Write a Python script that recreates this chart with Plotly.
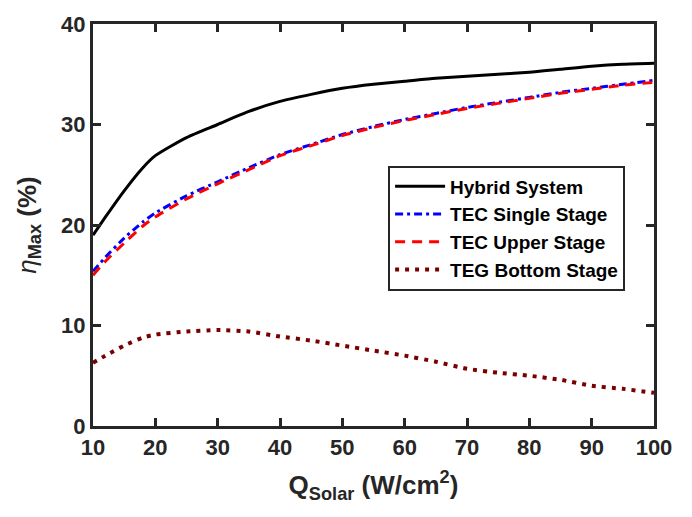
import plotly.graph_objects as go

q_solar = [10, 12, 15, 18, 20, 25, 30, 35, 40, 45, 50, 55, 60, 65, 70, 75, 80, 85, 90, 95, 100]
hybrid = [19.0, 20.8, 23.4, 25.7, 26.9, 28.7, 30.0, 31.3, 32.3, 33.0, 33.6, 34.0, 34.3, 34.6, 34.8, 35.0, 35.2, 35.5, 35.8, 36.0, 36.1]
tec_single = [15.4, 16.8, 18.7, 20.3, 21.2, 22.9, 24.3, 25.7, 27.0, 28.0, 29.0, 29.8, 30.5, 31.1, 31.7, 32.2, 32.7, 33.2, 33.6, 34.0, 34.4]
tec_upper = [15.0, 16.4, 18.2, 19.9, 20.8, 22.6, 24.1, 25.5, 26.9, 27.9, 28.9, 29.7, 30.4, 31.0, 31.6, 32.1, 32.6, 33.1, 33.5, 33.9, 34.2]
teg_bottom = [6.3, 7.0, 8.0, 8.8, 9.1, 9.4, 9.55, 9.4, 8.9, 8.5, 8.0, 7.5, 7.0, 6.4, 5.7, 5.3, 5.0, 4.6, 4.0, 3.7, 3.3]

x_ticks = [10, 20, 30, 40, 50, 60, 70, 80, 90, 100]
y_ticks = [0, 10, 20, 30, 40]

names = ["Hybrid System", "TEC Single Stage", "TEC Upper Stage", "TEG Bottom Stage"]
series = [hybrid, tec_single, tec_upper, teg_bottom]
colors = ["#000000", "#0000ff", "#ff0000", "#7a0000"]
dashes = ["solid", "8px,4px,3px,4px", "10px,7px", "4px,6px"]
widths = [3, 3, 3, 4]

FONT = "Liberation Sans, Arial, sans-serif"
AX = "#262626"

fig = go.Figure()
for n, s, c, d, w in zip(names, series, colors, dashes, widths):
    fig.add_trace(go.Scatter(x=q_solar, y=s, mode="lines", name="<b>" + n + "</b>",
                             line=dict(color=c, dash=d, width=w, shape="spline", smoothing=0.6)))

axis_common = dict(showline=True, linecolor=AX, linewidth=3, mirror="ticks",
                   ticks="inside", ticklen=8, tickwidth=3, tickcolor=AX,
                   showgrid=False, zeroline=False,
                   tickfont=dict(family=FONT, size=22, color=AX))

fig.update_layout(
    width=692, height=517,
    margin=dict(l=93, r=38, t=17, b=91),
    plot_bgcolor="white", paper_bgcolor="white",
    font=dict(family=FONT, color=AX),
    showlegend=True,
    legend=dict(x=0.526, y=0.648, xanchor="left", yanchor="top",
                bgcolor="white", bordercolor=AX, borderwidth=2,
                font=dict(family=FONT, size=19, color="#000000"),
                tracegroupgap=0, itemwidth=50),
)
fig.update_xaxes(range=[10, 100], tickvals=x_ticks,
                 ticktext=["<b>%d</b>" % v for v in x_ticks],
                 title=dict(text="<b>Q<sub>Solar</sub> (W/cm<sup>2</sup>)</b>",
                            font=dict(size=26, family=FONT, color=AX), standoff=17),
                 **axis_common)
fig.update_yaxes(range=[0, 40], tickvals=y_ticks,
                 ticktext=["<b>%d</b>" % v for v in y_ticks],
                 title=dict(text="<i>η</i><b><sub>Max</sub> (%)</b>",
                            font=dict(size=26, family=FONT, color=AX), standoff=18),
                 **axis_common)

fig.write_html("out.html")
